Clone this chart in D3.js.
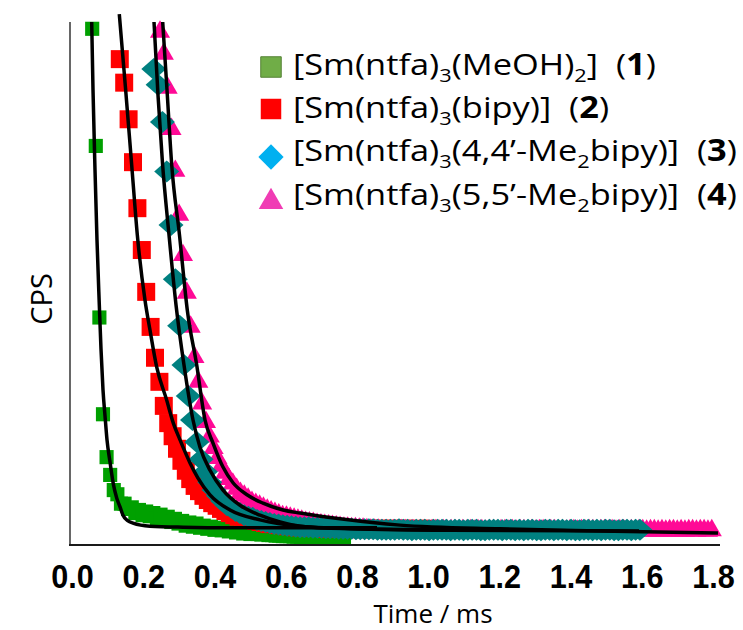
<!DOCTYPE html>
<html>
<head>
<meta charset="utf-8">
<script src="https://cdn.jsdelivr.net/npm/d3@7"></script>
<style>
  body { margin: 0; background: #fff; }
  svg { display: block; }
</style>
</head>
<body>
<svg id="chart" width="743" height="630"></svg>
<script>
// Luminescence decay curves (counts vs. time), one array of counts per complex.
// Counts are sampled on a uniform channel grid: start time + index * channel width (ms).
const sm1Start = 0.0567, sm1Step = 0.0101;
const sm1Counts = [987,763,435,250,168,134,105,97,79,79,
  69,72,61,67,57,64,55,61,51,58,
  48,54,44,50,41,46,37,43,35,41,
  33,37,31,35,29,33,28,31,26,29,
  24,27,22,25,21,23,21,20,21,19,
  19,18,18,17,17,17,16,16,15,15,
  15,15,15,14,14,14,14,13,13,13,13];

const sm2Start = 0.1342, sm2Step = 0.01236;
const sm2Counts = [929,884,814,732,644,564,484,417,358,312,
  266,233,208,184,161,142,126,113,103,94,
  86,80,75,69,65,61,57,54,52,50,
  48,46,44,42,40,40,38,38,36,36,
  34,34,34,33,33,33,33,31,31,31,
  31,31,31,31,31,30,31,31,30,31,
  31,30,31,30,31,31,30,30,31,30,31];

const sm3Start = 0.2297, sm3Step = 0.01208;
const sm3Counts = [910,880,809,714,612,508,419,344,285,239,
  197,164,140,120,105,94,84,76,71,65,
  61,57,54,52,48,46,44,42,40,39,
  38,37,36,35,34,34,34,33,33,33,
  32,32,32,31,31,31,31,30,30,30,
  30,30,29,29,29,
  29,29,30,29,29,28,29,29,29,28,
  29,29,29,29,28,29,29,28,29,29,
  29,28,28,29,29,29,28,29,29,28,
  29,28,29,29,28,28,29,29,28,29,
  29,28,29,28,28,29,29,28,29,28,
  29,29,28,28,29,29,28,29,29];

const sm4Start = 0.2471, sm4Step = 0.01076;
const sm4Counts = [981,939,874,795,715,631,554,482,417,359,
  312,270,235,207,185,166,151,138,126,117,
  107,99,94,88,82,78,75,71,67,64,
  61,58,55,54,52,50,48,46,44,43,
  42,40,39,38,37,36,35,34,33,33,
  32,32,31,31,30,29,29,29,28,28,
  27,28,27,28,28,27,28,27,28,28,
  27,28,28,27,28,27,28,28,27,28,
  27,28,27,28,28,27,28,28,27,28,
  28,27,28,27,28,28,27,28,27,28,
  28,27,28,28,27,28,27,28,28,27,
  28,27,28,28,27,28,28,27,28,27,
  28,28,27,28,27,28,28,27,28,28,
  27,28,27,28,28,27,28,27,28,28,
  27,28,28,27,28];

// Mono-exponential fit curves, as [time (ms), counts] pairs.
const fit1 = [[0.0553,1000],[0.059,870],[0.0646,717],[0.0702,583],[0.0767,459],[0.0814,375],
  [0.0871,296],[0.0927,247],[0.0983,201],[0.1067,159],[0.116,117],[0.1255,90],[0.1348,73],
  [0.1432,57],[0.1573,46],[0.1713,42],[0.219,36],[0.3117,34],[0.4521,33],[0.8565,33]];
const fit2 = [[0.1328,1015],[0.1502,874],[0.1676,727],[0.1834,593],[0.205,468],[0.219,411],
  [0.2379,340],[0.2659,277],[0.2845,233],[0.3033,201],[0.3314,157],[0.3538,128],[0.3875,96],
  [0.4437,67],[0.5279,48],[0.6403,36],[0.8088,31],[1.0615,29]];
const fit3 = [[0.2303,1000],[0.2415,860],[0.2541,730],[0.2724,593],[0.2921,459],[0.3145,344],
  [0.3398,239],[0.3594,187],[0.3875,143],[0.424,105],[0.4718,76],[0.5279,57],[0.5841,44],
  [0.6403,36],[0.7807,31],[1.0615,28],[1.5922,27]];
const fit4 = [[0.2547,1000],[0.2668,870],[0.28,727],[0.3018,593],[0.3238,449],[0.3502,344],
  [0.3735,239],[0.396,195],[0.424,149],[0.4521,119],[0.4914,96],[0.5364,80],[0.5925,67],
  [0.6403,61],[0.7526,50],[0.9211,38],[1.2019,31],[1.4828,27],[1.814,23]];

const timeTicks = [0.0,0.2,0.4,0.6,0.8,1.0,1.2,1.4,1.6,1.8];

// Legend labels: [text, kind] where kind is "sub" (subscript) or "b" (bold).
const legendLabels = [
  [["[Sm(ntfa)"],["3","sub"],["(MeOH)"],["2","sub"],["]\u00a0 ("],["1","b"],[")"]],
  [["[Sm(ntfa)"],["3","sub"],["(bipy)]\u00a0 ("],["2","b"],[")"]],
  [["[Sm(ntfa)"],["3","sub"],["(4,4\u2019-Me"],["2","sub"],["bipy)]\u00a0 ("],["3","b"],[")"]],
  [["[Sm(ntfa)"],["3","sub"],["(5,5\u2019-Me"],["2","sub"],["bipy)]\u00a0 ("],["4","b"],[")"]]
];

const svg = d3.select("#chart");
const x = d3.scaleLinear().domain([0, 1.8]).range([72, 713]);
const y = d3.scaleLinear().domain([0, 1000]).range([545, 22]);

// flattened diamond symbol (width:height set by ratio)
function diamond(ratio) {
  return {
    draw(ctx, size) {
      const w = Math.sqrt(2 * size / ratio), h = ratio * w;
      ctx.moveTo(0, -h / 2); ctx.lineTo(w / 2, 0); ctx.lineTo(0, h / 2); ctx.lineTo(-w / 2, 0); ctx.closePath();
    }
  };
}

const series = [
  { start: sm1Start, step: sm1Step, counts: sm1Counts, type: d3.symbolSquare, size: 200, fill: "#00a000",
    legendType: d3.symbolSquare, legendSize: 420, legendFill: "#70ad47", legendStroke: "#548235" },
  { start: sm2Start, step: sm2Step, counts: sm2Counts, type: d3.symbolSquare, size: 324, fill: "#ff0000",
    legendType: d3.symbolSquare, legendSize: 420, legendFill: "#ff0000", legendStroke: "none" },
  { start: sm3Start, step: sm3Step, counts: sm3Counts, type: diamond(0.88), size: 275, fill: "#008080",
    legendType: diamond(1), legendSize: 320, legendFill: "#00b0f0", legendStroke: "none" },
  { start: sm4Start, step: sm4Step, counts: sm4Counts, type: d3.symbolTriangle, size: 175, fill: "#ff0a96",
    legendType: d3.symbolTriangle, legendSize: 260, legendFill: "#f03cb4", legendStroke: "none" }
];
series.forEach(s => { s.points = s.counts.map((v, i) => ({ t: s.start + i * s.step, v })); });

// draw order: green, red, magenta, teal (teal on top)
const drawOrder = [0, 1, 3, 2];
const marks = svg.append("g");
drawOrder.forEach(k => {
  const s = series[k];
  const sym = d3.symbol().type(s.type).size(s.size);
  marks.append("g").selectAll("path").data(s.points).join("path")
    .attr("transform", d => `translate(${x(d.t)},${y(d.v)})`)
    .attr("d", sym)
    .attr("fill", s.fill);
});

// fit lines
const line = d3.line().x(d => x(d[0])).y(d => y(d[1])).curve(d3.curveMonotoneX);
svg.append("g").selectAll("path").data([fit1, fit2, fit3, fit4]).join("path")
  .attr("d", line)
  .attr("fill", "none")
  .attr("stroke", "#000")
  .attr("stroke-width", 3.5)
  .attr("stroke-linejoin", "round");

// axes
svg.append("line").attr("x1", 70).attr("x2", 70).attr("y1", 22).attr("y2", 545.5)
  .attr("stroke", "#404040").attr("stroke-width", 1.6);
svg.append("line").attr("x1", 69).attr("x2", 720).attr("y1", 545).attr("y2", 545)
  .attr("stroke", "#1a1a1a").attr("stroke-width", 2);

const xAxis = d3.axisBottom(x).tickValues(timeTicks).tickFormat(d3.format(".1f"))
  .tickSize(0).tickPadding(19);
const gx = svg.append("g").attr("transform", "translate(0,545)").call(xAxis);
gx.select(".domain").remove();
gx.selectAll("text")
  .attr("font-family", "'Liberation Sans', Arial, sans-serif")
  .attr("font-weight", "bold")
  .attr("font-size", 34)
  .attr("fill", "#000")
  .attr("transform", "scale(0.9,1)");

svg.append("text").attr("x", 433).attr("y", 623).attr("text-anchor", "middle")
  .attr("font-family", "'Open Sans', sans-serif").attr("font-size", 26).attr("fill", "#000")
  .text("Time / ms");

svg.append("text").attr("transform", "translate(52,299) rotate(-90)").attr("text-anchor", "middle")
  .attr("font-family", "'Open Sans', sans-serif").attr("font-size", 29).attr("fill", "#000")
  .text("CPS");

// legend
const legendRowsY = [67, 109, 157, 202];
const legendTextY = [75, 118, 161, 205];
const legendTextX = 293, legendRow4Width = 444;
const legend = svg.append("g");
const legendTexts = [];
series.forEach((s, i) => {
  legend.append("path")
    .attr("transform", `translate(271,${legendRowsY[i]})`)
    .attr("d", d3.symbol().type(s.legendType).size(s.legendSize))
    .attr("fill", s.legendFill)
    .attr("stroke", s.legendStroke).attr("stroke-width", 1);
  const txt = legend.append("text")
    .attr("x", 0).attr("y", 0)
    .attr("font-family", "'Open Sans', sans-serif").attr("font-size", 30).attr("fill", "#000");
  let prevKind = null;
  legendLabels[i].forEach(([str, kind]) => {
    const ts = txt.append("tspan").text(str);
    if (kind === "sub") ts.attr("font-size", 19).attr("dy", 7);
    else if (prevKind === "sub") ts.attr("dy", -7);
    if (kind === "b") ts.attr("font-weight", "bold");
    prevKind = kind || null;
  });
  legendTexts.push(txt);
});
// stretch all legend labels by one factor so the longest row spans its slot
const sx = legendRow4Width / legendTexts[3].node().getComputedTextLength();
legendTexts.forEach((t, i) => t.attr("transform", `translate(${legendTextX},${legendTextY[i]}) scale(${sx},1)`));
</script>
</body>
</html>
